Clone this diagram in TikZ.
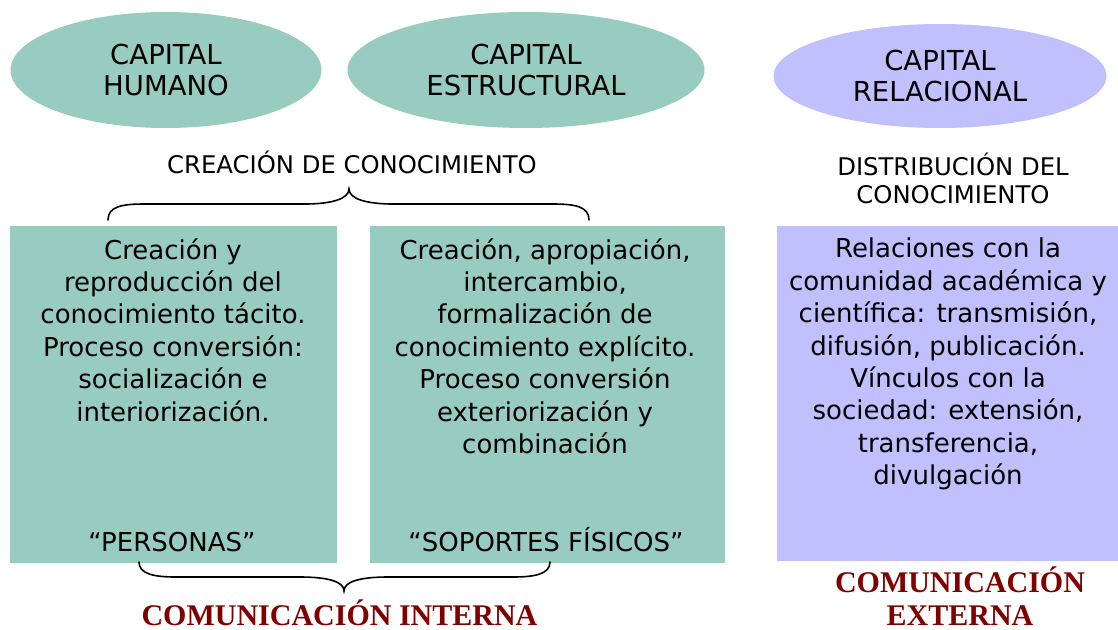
\documentclass[tikz,border=0pt]{standalone}
\usepackage{fontspec}
\setmainfont{DejaVu Sans}
\newfontfamily\romanfont{Liberation Serif}
\usepackage{tikz}
\usetikzlibrary{shapes}
\definecolor{capverde}{RGB}{153,204,192}
\definecolor{caplila}{RGB}{192,192,255}
\definecolor{granate}{RGB}{128,0,0}

\begin{document}
\begin{tikzpicture}[x=1pt,y=-1pt]
	\tikzstyle{every node}=[inner sep=0pt,align=center]
	\tikzstyle{capital}=[ellipse,font=\fontsize{27.5}{31}\selectfont]
	\tikzstyle{bloque}=[anchor=north west,rectangle]
	\tikzstyle{texto}=[anchor=north,font=\fontsize{26}{32.4}\selectfont]
	\tikzstyle{soporte}=[anchor=base,font=\fontsize{26}{32}\selectfont]
	\tikzstyle{titulo}=[font=\fontsize{24.3}{28}\selectfont]
	\tikzstyle{comunic}=[text=granate,font=\romanfont\bfseries\fontsize{30}{32.5}\selectfont]
	\tikzstyle{llave}=[line width=1.6pt,line cap=round]

	\useasboundingbox (0,0) rectangle (1118,629);

	\node[capital,fill=capverde,minimum width=311pt,minimum height=116pt] (humano) at (166,70) {CAPITAL\\HUMANO};
	\node[capital,fill=capverde,minimum width=357pt,minimum height=116pt] (estructural) at (526,70) {CAPITAL\\ESTRUCTURAL};
	\node[capital,fill=caplila,minimum width=333pt,minimum height=104pt] (relacional) at (940,76) {CAPITAL\\RELACIONAL};

	\node[titulo,anchor=base] (creacion) at (352,173) {CREACIÓN DE CONOCIMIENTO};
	\node[titulo,anchor=north] (distribucion) at (953,153) {DISTRIBUCIÓN DEL\\CONOCIMIENTO};

	\node[bloque,fill=capverde,minimum width=327pt,minimum height=337pt] (personas) at (10,226) {};
	\node[bloque,fill=capverde,minimum width=355pt,minimum height=337pt] (soportes) at (370,226) {};
	\node[bloque,fill=caplila,minimum width=341pt,minimum height=335pt] (vinculos) at (777,226) {};

	\node[texto] (txtpersonas) at (173,238) {Creación y\\reproducción del\\conocimiento tácito.\\Proceso conversión:\\socialización e\\interiorización.};
	\node[texto] (txtsoportes) at (545,238) {Creación, apropiación,\\intercambio,\\formalización de\\conocimiento explícito.\\Proceso conversión\\exteriorización y\\combinación};
	\node[texto] (txtvinculos) at (948,238) {Relaciones con la\\comunidad académica y\\científica: transmisión,\\difusión, publicación.\\Vínculos con la\\sociedad: extensión,\\transferencia,\\divulgación};

	\node[soporte] (lblpersonas) at (172,551) {“PERSONAS”};
	\node[soporte] (lblsoportes) at (546,551) {“SOPORTES FÍSICOS”};

	\coordinate (llavesupA) at (108,220);
	\coordinate (llavesupB) at (589,220);
	\draw[llave] (llavesupA) .. controls +(0,-14) and +(-22,0) .. ++(37,-16) -- ++(160,0)
		.. controls +(26,0) and +(0,10) .. ++(44,-15)
		.. controls +(0,10) and +(-26,0) .. ++(44,15) -- ++(159,0)
		.. controls +(22,0) and +(0,-14) .. (llavesupB);
	\coordinate (llaveinfA) at (139,562);
	\coordinate (llaveinfB) at (550,562);
	\draw[llave] (llaveinfA) .. controls +(0,12) and +(-22,0) .. ++(37,15) -- ++(124,0)
		.. controls +(26,0) and +(0,-10) .. ++(44,14)
		.. controls +(0,-10) and +(-26,0) .. ++(44,-14) -- ++(125,0)
		.. controls +(22,0) and +(0,12) .. (llaveinfB);

	\node[comunic,anchor=base] (interna) at (339.5,625.5) {COMUNICACIÓN INTERNA};
	\node[comunic,anchor=south] (externa) at (960,625.5) {COMUNICACIÓN\\EXTERNA};
\end{tikzpicture}
\end{document}
